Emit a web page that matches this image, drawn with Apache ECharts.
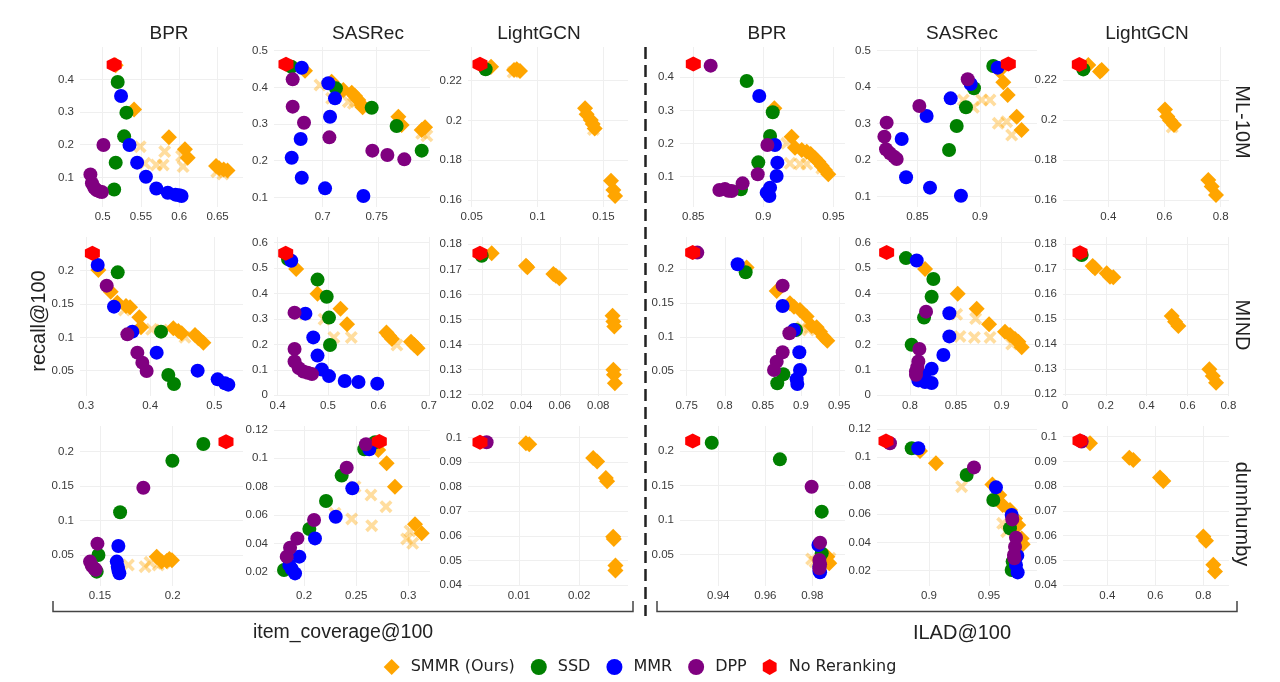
<!DOCTYPE html>
<html>
<head>
<meta charset="utf-8">
<title>Reranking trade-off: recall vs diversity</title>
<script src="https://cdn.jsdelivr.net/npm/echarts@6/dist/echarts.min.js"></script>
<style>
html, body { margin: 0; padding: 0; background: #fff; }
#chart { width: 1280px; height: 682px; }
</style>
</head>
<body>
<div id="chart"></div>
<script>
// panels are row-major: rows = datasets, cols = 3 models on item_coverage, then 3 models on ILAD
var datasets = ['ML-10M', 'MIND', 'dunnhumby'];
var models = ['BPR', 'SASRec', 'LightGCN', 'BPR', 'SASRec', 'LightGCN'];
var methods = ['SMMR (Ours)', 'SSD', 'MMR', 'DPP', 'No Reranking'];

var xTicks = [
    [0.5, 0.55, 0.6, 0.65], [0.7, 0.75], [0.05, 0.1, 0.15], [0.85, 0.9, 0.95], [0.85, 0.9], [0.4, 0.6, 0.8],
    [0.3, 0.4, 0.5], [0.4, 0.5, 0.6, 0.7], [0.02, 0.04, 0.06, 0.08], [0.75, 0.8, 0.85, 0.9, 0.95], [0.8, 0.85, 0.9], [0, 0.2, 0.4, 0.6, 0.8],
    [0.15, 0.2], [0.2, 0.25, 0.3], [0.01, 0.02], [0.94, 0.96, 0.98], [0.9, 0.95], [0.4, 0.6, 0.8]
];
var yTicks = [
    [0.1, 0.2, 0.3, 0.4], [0.1, 0.2, 0.3, 0.4, 0.5], [0.16, 0.18, 0.2, 0.22], [0.1, 0.2, 0.3, 0.4], [0.1, 0.2, 0.3, 0.4, 0.5], [0.16, 0.18, 0.2, 0.22],
    [0.05, 0.1, 0.15, 0.2], [0, 0.1, 0.2, 0.3, 0.4, 0.5, 0.6], [0.12, 0.13, 0.14, 0.15, 0.16, 0.17, 0.18], [0.05, 0.1, 0.15, 0.2], [0, 0.1, 0.2, 0.3, 0.4, 0.5, 0.6], [0.12, 0.13, 0.14, 0.15, 0.16, 0.17, 0.18],
    [0.05, 0.1, 0.15, 0.2], [0.02, 0.04, 0.06, 0.08, 0.1, 0.12], [0.04, 0.05, 0.06, 0.07, 0.08, 0.09, 0.1], [0.05, 0.1, 0.15, 0.2], [0.02, 0.04, 0.06, 0.08, 0.1, 0.12], [0.04, 0.05, 0.06, 0.07, 0.08, 0.09, 0.1]
];
var xLimits = [
    [0.4704, 0.6832], [0.6549, 0.7994], [0.0472, 0.1687], [0.8405, 0.9583], [0.8178, 0.9455], [0.2386, 0.8297],
    [0.2906, 0.5447], [0.393, 0.702], [0.0124, 0.0954], [0.7413, 0.9577], [0.764, 0.9385], [-0.0098, 0.803],
    [0.1362, 0.2484], [0.1712, 0.3208], [0.00155, 0.0281], [0.9237, 0.9939], [0.8567, 0.99], [0.2153, 0.907]
];
var yLimits = [
    [0.0092, 0.499], [0.0737, 0.51], [0.1565, 0.2369], [0.0083, 0.4916], [0.0717, 0.51], [0.1565, 0.2365],
    [0.012, 0.2505], [-0.003, 0.622], [0.1195, 0.1829], [0.0125, 0.2478], [-0.003, 0.622], [0.1192, 0.1828],
    [0.005, 0.2373], [0.0099, 0.1228], [0.0397, 0.1046], [0.0041, 0.2363], [0.0092, 0.1221], [0.0397, 0.1043]
];

// [item_coverage or ILAD, recall] per panel
var smmr = [
    [[0.517,0.443],[0.541,0.308],[0.5865,0.2225],[0.6074,0.186],[0.611,0.16],[0.648,0.135],[0.652,0.128],[0.658,0.124],[0.663,0.121]],
    [[0.6836,0.4455],[0.7083,0.4155],[0.7191,0.3927],[0.7269,0.3855],[0.73,0.3764],[0.733,0.3655],[0.7361,0.3518],[0.737,0.3455],[0.7701,0.32],[0.7731,0.2973],[0.7917,0.2836],[0.7948,0.291]],
    [[0.0647,0.227],[0.0822,0.2254],[0.0842,0.2257],[0.0867,0.2249],[0.1361,0.2061],[0.1373,0.2031],[0.1404,0.2002],[0.1419,0.1982],[0.1434,0.196],[0.1558,0.1697],[0.1576,0.165],[0.1589,0.162]],
    [[0.9079,0.3063],[0.9202,0.2207],[0.9226,0.1875],[0.9274,0.1805],[0.931,0.1754],[0.9338,0.1684],[0.9369,0.1553],[0.9393,0.1452],[0.9417,0.1321],[0.944,0.12],[0.9464,0.107]],
    [[0.9154,0.4452],[0.9186,0.4132],[0.9221,0.3785],[0.9293,0.3192],[0.9332,0.2826]],
    [[0.3288,0.2275],[0.3703,0.2242],[0.3763,0.225],[0.6018,0.2053],[0.6101,0.2017],[0.6196,0.1997],[0.6338,0.1975],[0.7561,0.17],[0.768,0.1667],[0.7834,0.1625]],
    [[0.3192,0.201],[0.3384,0.1685],[0.3488,0.152],[0.3623,0.147],[0.3686,0.145],[0.3831,0.13],[0.3857,0.115],[0.4361,0.1135],[0.4439,0.1095],[0.4491,0.106],[0.4699,0.1035],[0.4751,0.0985],[0.4829,0.092]],
    [[0.437,0.4961],[0.4792,0.3987],[0.5247,0.3403],[0.5377,0.2792],[0.6157,0.2468],[0.6209,0.2338],[0.6267,0.2208],[0.6644,0.2104],[0.6709,0.1974],[0.6774,0.1844]],
    [[0.0247,0.1764],[0.0425,0.1714],[0.0432,0.1708],[0.0567,0.1681],[0.058,0.1674],[0.0598,0.1665],[0.0874,0.1515],[0.0878,0.1492],[0.0883,0.1472],[0.0878,0.13],[0.0881,0.128],[0.0886,0.1246]],
    [[0.8287,0.2025],[0.8681,0.1679],[0.8855,0.1497],[0.8908,0.1447],[0.8987,0.1398],[0.9074,0.13],[0.914,0.1161],[0.9205,0.1142],[0.9249,0.1077],[0.9293,0.1003],[0.9345,0.0944]],
    [[0.8164,0.4961],[0.852,0.3987],[0.8727,0.3403],[0.8862,0.2792],[0.9036,0.2494],[0.9091,0.2364],[0.9145,0.2208],[0.9182,0.2104],[0.9218,0.1883]],
    [[0.1355,0.1712],[0.1469,0.1703],[0.2041,0.1683],[0.2204,0.1669],[0.2367,0.1667],[0.5224,0.1512],[0.5388,0.1489],[0.5551,0.1472],[0.7069,0.1299],[0.7233,0.1272],[0.7396,0.1245]],
    [[0.189,0.0476],[0.1924,0.0404],[0.1959,0.0413],[0.1977,0.0442],[0.1995,0.0425]],
    [[0.2712,0.1059],[0.2792,0.0965],[0.2872,0.08],[0.3064,0.0534],[0.3128,0.0471]],
    [[0.01116,0.0976],[0.01171,0.0972],[0.02232,0.0916],[0.02298,0.0902],[0.02442,0.0835],[0.02464,0.0822],[0.02564,0.0597],[0.02575,0.0588],[0.02602,0.048],[0.02602,0.046]],
    [[0.9854,0.0394],[0.9864,0.0466],[0.9872,0.037]],
    [[0.8925,0.1045],[0.9058,0.0958],[0.9528,0.0809],[0.9586,0.0734],[0.9614,0.0664],[0.9675,0.0628],[0.9717,0.0569],[0.9744,0.0522],[0.9772,0.0428],[0.9781,0.0386]],
    [[0.3278,0.0973],[0.4917,0.0915],[0.5083,0.0906],[0.6194,0.0835],[0.6333,0.0821],[0.8,0.0597],[0.8111,0.058],[0.8417,0.0483],[0.8486,0.0456]]
];
// pale crosses (SMMR variant, not in legend)
var smmrFaded = [
    [[0.549,0.194],[0.555,0.143],[0.57,0.138],[0.579,0.138],[0.581,0.179],[0.603,0.165],[0.605,0.133],[0.649,0.117],[0.657,0.11]],
    [[0.6975,0.4064],[0.7083,0.37],[0.7238,0.3609],[0.7284,0.3564],[0.7917,0.2745],[0.7965,0.268]],
    [[0.0815,0.2243],[0.1425,0.1955]],
    [[0.9167,0.2006],[0.919,0.1402],[0.9262,0.1382],[0.931,0.1382],[0.9417,0.125]],
    [[0.8867,0.3648],[0.9013,0.3648],[0.908,0.3648],[0.8947,0.3447],[0.9146,0.3009],[0.9213,0.3055],[0.9253,0.2689]],
    [[0.6275,0.1965]],
    [[0.3597,0.141],[0.4023,0.112],[0.418,0.111],[0.4543,0.1]],
    [[0.4545,0.318],[0.4922,0.2987],[0.5117,0.2273],[0.5461,0.2273],[0.6365,0.1974]],
    [],
    [[0.9009,0.1142],[0.9096,0.1102]],
    [[0.8509,0.3182],[0.8716,0.3013],[0.8545,0.2312],[0.8702,0.2273],[0.8873,0.2273],[0.9109,0.2013]],
    [],
    [[0.1695,0.0355],[0.181,0.0331],[0.1844,0.0394],[0.1901,0.0355],[0.1936,0.0379]],
    [[0.2297,0.0612],[0.2457,0.0572],[0.2489,0.08],[0.2642,0.0741],[0.2649,0.0525],[0.2786,0.0659],[0.2984,0.0431],[0.3016,0.0487],[0.3042,0.04]],
    [],
    [[0.9797,0.0432],[0.9811,0.0394],[0.9875,0.0442]],
    [[0.9272,0.0793],[0.9614,0.0534],[0.9647,0.0475]],
    []
];
var ssd = [
    [[0.5196,0.392],[0.531,0.298],[0.528,0.2255],[0.517,0.145],[0.515,0.063]],
    [[0.671,0.456],[0.7123,0.3973],[0.7454,0.3445],[0.7685,0.2945],[0.7917,0.2273]],
    [[0.0606,0.2257]],
    [[0.8881,0.3889],[0.9067,0.2943],[0.9048,0.2228],[0.8964,0.1432],[0.884,0.0616]],
    [[0.9106,0.458],[0.8952,0.3968],[0.8888,0.3447],[0.8814,0.2936],[0.8753,0.2279]],
    [[0.311,0.2253]],
    [[0.3494,0.1975],[0.4169,0.1085],[0.4283,0.0435],[0.4371,0.03]],
    [[0.4207,0.5351],[0.4792,0.4545],[0.4974,0.387],[0.5019,0.3052],[0.5039,0.1974]],
    [[0.0195,0.1754]],
    [[0.8274,0.1956],[0.8935,0.1102],[0.8768,0.0446],[0.8689,0.0313]],
    [[0.7956,0.539],[0.8255,0.4571],[0.8236,0.387],[0.8153,0.3052],[0.8018,0.1987]],
    [[0.0816,0.1756]],
    [[0.2211,0.2111],[0.1998,0.1869],[0.1638,0.112],[0.1489,0.05],[0.1477,0.0258]],
    [[0.2681,0.1113],[0.2578,0.1064],[0.2361,0.0878],[0.2211,0.0699],[0.2051,0.0501],[0.1808,0.0212]],
    [],
    [[0.9372,0.2121],[0.9662,0.1879],[0.984,0.112],[0.984,0.0515]],
    [[0.8856,0.1064],[0.9314,0.0875],[0.9536,0.0699],[0.9675,0.0499],[0.9697,0.0264],[0.9689,0.0205]],
    []
];
var mmr = [
    [[0.524,0.349],[0.535,0.199],[0.545,0.145],[0.5565,0.102],[0.57,0.066],[0.585,0.053],[0.595,0.047],[0.6,0.045],[0.603,0.043]],
    [[0.6806,0.4536],[0.7052,0.411],[0.7114,0.37],[0.7068,0.32],[0.6796,0.259],[0.6713,0.208],[0.6806,0.1536],[0.7022,0.1245],[0.7377,0.1036]],
    [],
    [[0.8971,0.3436],[0.9083,0.1956],[0.91,0.1422],[0.9095,0.1019],[0.9048,0.0667],[0.9024,0.0516],[0.9043,0.0415]],
    [[0.9141,0.4534],[0.8926,0.4087],[0.8766,0.3694],[0.8574,0.321],[0.8375,0.258],[0.841,0.153],[0.8601,0.1247],[0.8848,0.1027]],
    [],
    [[0.3182,0.2085],[0.3436,0.146],[0.3722,0.1085],[0.4101,0.077],[0.474,0.05],[0.5052,0.037],[0.5166,0.031],[0.5218,0.029]],
    [[0.4272,0.5286],[0.4552,0.3208],[0.4708,0.2273],[0.4792,0.1558],[0.4877,0.1013],[0.5019,0.0753],[0.5331,0.0558],[0.5604,0.0519],[0.5975,0.0455]],
    [],
    [[0.8169,0.2074],[0.8759,0.1457],[0.8908,0.1102],[0.8978,0.0772],[0.8987,0.051],[0.8943,0.0372],[0.8952,0.0303]],
    [[0.8073,0.5299],[0.8429,0.3221],[0.8429,0.2312],[0.8364,0.1584],[0.8236,0.1039],[0.8153,0.0779],[0.8091,0.0584],[0.8164,0.0519],[0.8236,0.0481]],
    [],
    [[0.1626,0.0631],[0.1615,0.0404],[0.1622,0.0331],[0.1626,0.0282],[0.1633,0.0234]],
    [[0.2626,0.1064],[0.2463,0.0788],[0.2304,0.0588],[0.2105,0.0435],[0.1955,0.0306],[0.1859,0.0247],[0.1882,0.0219],[0.1914,0.0188]],
    [],
    [[0.9826,0.0636],[0.983,0.0321],[0.983,0.0258],[0.9833,0.0239]],
    [[0.8911,0.1064],[0.9558,0.0788],[0.9689,0.0593],[0.9736,0.0306],[0.9725,0.024],[0.9739,0.0188]],
    []
];
var dpp = [
    [[0.501,0.199],[0.484,0.109],[0.486,0.082],[0.489,0.068],[0.492,0.061],[0.4957,0.057],[0.499,0.055]],
    [[0.6722,0.4218],[0.6722,0.3473],[0.6827,0.3036],[0.7062,0.2636],[0.746,0.2273],[0.7599,0.2155],[0.7756,0.2036]],
    [],
    [[0.8624,0.4352],[0.9029,0.1956],[0.896,0.107],[0.8852,0.0798],[0.8726,0.0626],[0.8686,0.0596],[0.875,0.0576],[0.8774,0.0566]],
    [[0.8902,0.4215],[0.8516,0.3484],[0.8255,0.3027],[0.8237,0.2644],[0.825,0.2297],[0.8282,0.2187],[0.8314,0.2096],[0.8335,0.2032]],
    [],
    [[0.3322,0.1775],[0.3644,0.1045],[0.38,0.077],[0.3878,0.062],[0.3945,0.0495]],
    [[0.4337,0.3247],[0.4337,0.1818],[0.4337,0.1325],[0.4421,0.1065],[0.4512,0.0935],[0.4597,0.0883],[0.4682,0.0831]],
    [],
    [[0.764,0.2247],[0.8759,0.1758],[0.8847,0.1053],[0.8759,0.0772],[0.8681,0.0633],[0.8646,0.051]],
    [[0.8175,0.3286],[0.8102,0.1818],[0.8091,0.1325],[0.808,0.1104],[0.8065,0.0935],[0.8065,0.0805]],
    [],
    [[0.1798,0.1477],[0.1482,0.0665],[0.1431,0.0404],[0.1443,0.0345],[0.1459,0.0307],[0.147,0.0287]],
    [[0.2594,0.1099],[0.2409,0.0934],[0.2096,0.0565],[0.1936,0.0435],[0.1866,0.0369],[0.1834,0.0306]],
    [[0.00464,0.098]],
    [[0.9797,0.1482],[0.9833,0.067],[0.983,0.0418],[0.9833,0.0355],[0.983,0.0297]],
    [[0.8675,0.1099],[0.9375,0.0929],[0.9694,0.0562],[0.9725,0.0433],[0.9717,0.0369],[0.9708,0.0311],[0.9711,0.0287]],
    [[0.2931,0.098]]
];
var noRerank = [
    [[0.515,0.445]], [[0.666,0.463]], [[0.0563,0.2282]], [[0.85,0.4403]], [[0.9226,0.4635]], [[0.2967,0.2278]],
    [[0.3099,0.226]], [[0.4162,0.5584]], [[0.0186,0.1764]], [[0.7579,0.2247]], [[0.7745,0.561]], [[0.0735,0.1765]],
    [[0.2367,0.2145]], [[0.2722,0.1118]], [[0.00354,0.098]], [[0.9291,0.2145]], [[0.8642,0.1115]], [[0.2861,0.0983]]
];

var HEX = 'path://M0,-1L0.866,-0.5L0.866,0.5L0,1L-0.866,0.5L-0.866,-0.5Z';
var CROSS = 'path://M-1,-0.6L-0.6,-1L0,-0.4L0.6,-1L1,-0.6L0.4,0L1,0.6L0.6,1L0,0.4L-0.6,1L-1,0.6L-0.4,0Z';

// layered bottom to top
var layers = [
    { name: 'SMMR variant', data: smmrFaded, symbol: CROSS, size: 13, color: '#ffa500', opacity: 0.38 },
    { name: methods[0], data: smmr, symbol: 'diamond', size: 16, color: '#ffa500', opacity: 1 },
    { name: methods[1], data: ssd, symbol: 'circle', size: 14, color: '#008000', opacity: 1 },
    { name: methods[2], data: mmr, symbol: 'circle', size: 14, color: '#0000ff', opacity: 1 },
    { name: methods[3], data: dpp, symbol: 'circle', size: 14, color: '#800080', opacity: 1 },
    { name: methods[4], data: noRerank, symbol: HEX, size: 15, color: '#ff0000', opacity: 1 }
];

var colLeft = [80, 274, 468, 680, 877, 1063];
var colRight = [243, 430, 628, 845, 1037, 1229];
var rowTop = [47, 237, 426];
var rowBottom = [207, 396, 586];

var tickFont = 'Liberation Sans';
var grids = [], xAxes = [], yAxes = [], series = [];

for (var p = 0; p < 18; p++) {
    var r = Math.floor(p / 6), c = p % 6;
    grids.push({
        left: colLeft[c], top: rowTop[r],
        width: colRight[c] - colLeft[c], height: rowBottom[r] - rowTop[r]
    });
    xAxes.push({
        gridIndex: p, type: 'value', min: xLimits[p][0], max: xLimits[p][1],
        axisLine: { show: false },
        axisTick: { show: false, customValues: xTicks[p] },
        axisLabel: { customValues: xTicks[p], fontSize: 11.5, fontFamily: tickFont, color: '#3a3a3a', margin: 4 },
        splitLine: { show: true, lineStyle: { color: '#efefef', width: 1 } }
    });
    yAxes.push({
        gridIndex: p, type: 'value', min: yLimits[p][0], max: yLimits[p][1],
        axisLine: { show: false },
        axisTick: { show: false, customValues: yTicks[p] },
        axisLabel: { customValues: yTicks[p], fontSize: 11.5, fontFamily: tickFont, color: '#3a3a3a', margin: 6 },
        splitLine: { show: true, lineStyle: { color: '#efefef', width: 1 } }
    });
    layers.forEach(function (L) {
        series.push({
            type: 'scatter', name: L.name,
            xAxisIndex: p, yAxisIndex: p,
            data: L.data[p],
            symbol: L.symbol, symbolSize: L.size,
            itemStyle: { color: L.color, opacity: L.opacity },
            emphasis: { disabled: true }
        });
    });
}

var titleX = [169, 368, 539, 767, 962, 1147];
var graphics = [];
models.forEach(function (m, i) {
    graphics.push({ type: 'text', x: titleX[i], y: 34,
        style: { text: m, fontSize: 19, fontFamily: 'Liberation Sans', fill: '#222', textAlign: 'center', textVerticalAlign: 'middle' } });
});
var rowLabelY = [122, 325, 514];
datasets.forEach(function (d, i) {
    graphics.push({ type: 'text', x: 1242, y: rowLabelY[i], rotation: -Math.PI / 2,
        style: { text: d, fontSize: 20, fontFamily: 'Liberation Sans', fill: '#222', textAlign: 'center', textVerticalAlign: 'middle' } });
});
graphics.push({ type: 'text', x: 39, y: 321, rotation: Math.PI / 2,
    style: { text: 'recall@100', fontSize: 20, fontFamily: 'Liberation Sans', fill: '#222', textAlign: 'center', textVerticalAlign: 'middle' } });
graphics.push({ type: 'text', x: 343, y: 633,
    style: { text: 'item_coverage@100', fontSize: 19.5, fontFamily: 'Liberation Sans', fill: '#222', textAlign: 'center', textVerticalAlign: 'middle' } });
graphics.push({ type: 'text', x: 962, y: 633,
    style: { text: 'ILAD@100', fontSize: 20, fontFamily: 'Liberation Sans', fill: '#222', textAlign: 'center', textVerticalAlign: 'middle' } });
// brackets under each half
graphics.push({ type: 'polyline', shape: { points: [[53, 601], [53, 611.5], [633, 611.5], [633, 601]] },
    style: { stroke: '#444', lineWidth: 1.5, fill: null } });
graphics.push({ type: 'polyline', shape: { points: [[657, 601], [657, 611.5], [1237, 611.5], [1237, 601]] },
    style: { stroke: '#444', lineWidth: 1.5, fill: null } });
// dashed separator
graphics.push({ type: 'line', shape: { x1: 645.5, y1: 47, x2: 645.5, y2: 616 },
    style: { stroke: '#222', lineWidth: 2.5, lineDash: [12, 6] } });

var myChart = echarts.init(document.getElementById('chart'));
myChart.setOption({
    backgroundColor: '#fff',
    animation: false,
    legend: {
        data: methods,
        left: 'center', top: 654,
        itemWidth: 16, itemHeight: 16, itemGap: 16,
        textStyle: { fontSize: 16, fontFamily: 'DejaVu Sans', color: '#222', padding: [0, 0, 0, 6] }
    },
    grid: grids,
    xAxis: xAxes,
    yAxis: yAxes,
    series: series,
    graphic: graphics
});
</script>
</body>
</html>
